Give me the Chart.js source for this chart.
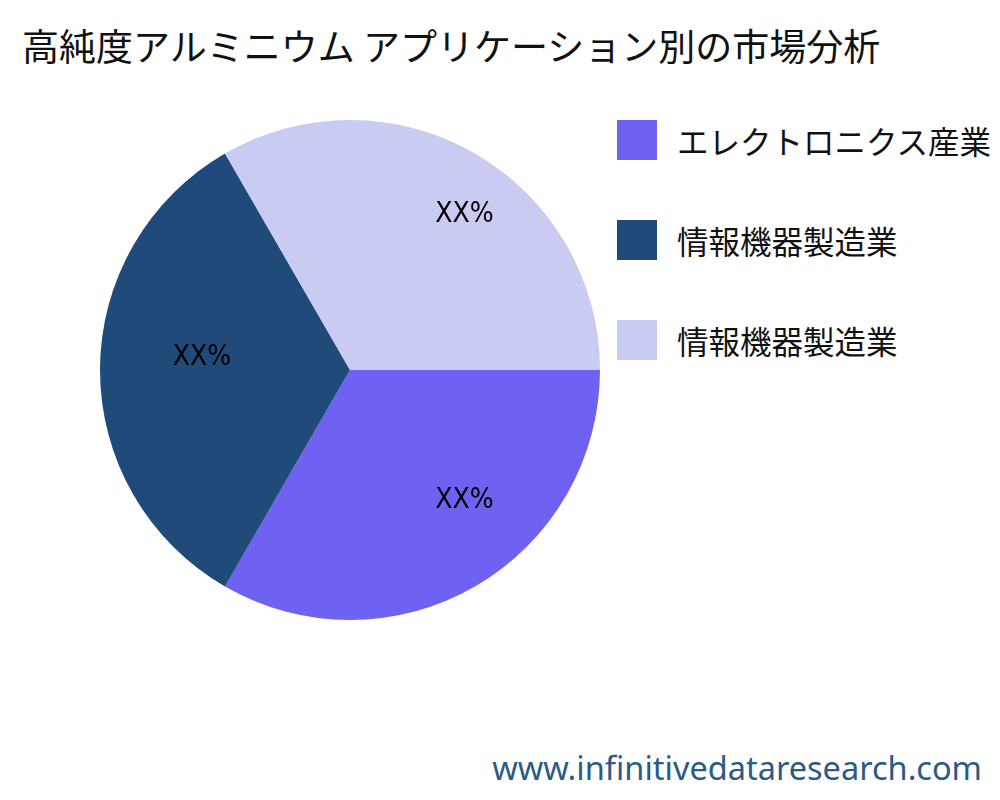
<!DOCTYPE html>
<html>
<head>
<meta charset="utf-8">
<script src="https://cdn.jsdelivr.net/npm/chart.js@4"></script>
<style>
  body { margin: 0; width: 1000px; height: 800px; background: #fff; font-family: "Noto Sans CJK JP", "Noto Sans", sans-serif; position: relative; overflow: hidden; }
  #title { position: absolute; left: 22px; top: 20px; font-size: 37px; line-height: 50px; color: #111; white-space: nowrap; }
  #wrap { position: absolute; left: 95px; top: 115px; width: 510px; height: 510px; }
  #legend { position: absolute; left: 617px; top: 120px; }
  .item { display: flex; align-items: center; height: 40px; margin-bottom: 60px; font-size: 31.5px; color: #111; white-space: nowrap; }
  .box { width: 40px; height: 40px; margin-right: 20px; flex: none; }
  #site { position: absolute; right: 18px; bottom: 10px; font-size: 32.5px; color: #2a5a86; font-family: "Noto Sans", sans-serif; }
</style>
</head>
<body>
<div id="title">高純度アルミニウム アプリケーション別の市場分析</div>
<div id="wrap"><canvas id="pie"></canvas></div>
<div id="legend"></div>
<div id="site">www.infinitivedataresearch.com</div>
<script>
const categories = ['エレクトロニクス産業', '情報機器製造業', '情報機器製造業'];
const values = [1, 1, 1];
const sliceLabels = ['XX%', 'XX%', 'XX%'];
const colors = ['#6f62f2', '#1f4a7a', '#c9cbf2'];

// legend
const legend = document.getElementById('legend');
categories.forEach((c, i) => {
  const item = document.createElement('div');
  item.className = 'item';
  item.innerHTML = '<div class="box" style="background:' + colors[i] + '"></div><span>' + c + '</span>';
  legend.appendChild(item);
});

// draw the XX% labels inside each slice
const labelPlugin = {
  id: 'sliceLabels',
  afterDatasetsDraw(chart) {
    const ctx = chart.ctx;
    const meta = chart.getDatasetMeta(0);
    ctx.save();
    ctx.font = '28px "DejaVu Sans Condensed", "Liberation Sans Narrow", sans-serif';
    ctx.fillStyle = '#000';
    ctx.textAlign = 'center';
    ctx.textBaseline = 'middle';
    meta.data.forEach((arc, i) => {
      const mid = (arc.startAngle + arc.endAngle) / 2;
      const r = arc.outerRadius;
      ctx.fillText(sliceLabels[i], arc.x + Math.cos(mid) * r * 0.7 + 27, arc.y + Math.sin(mid) * r * 0.66 - 12);
    });
    ctx.restore();
  }
};

new Chart(document.getElementById('pie'), {
  type: 'pie',
  data: {
    labels: categories,
    datasets: [{ data: values, backgroundColor: colors, borderWidth: 0 }]
  },
  options: {
    responsive: true,
    maintainAspectRatio: false,
    animation: false,
    rotation: 90,
    layout: { padding: 5 },
    plugins: { legend: { display: false }, tooltip: { enabled: false } }
  },
  plugins: [labelPlugin]
});
</script>
</body>
</html>
